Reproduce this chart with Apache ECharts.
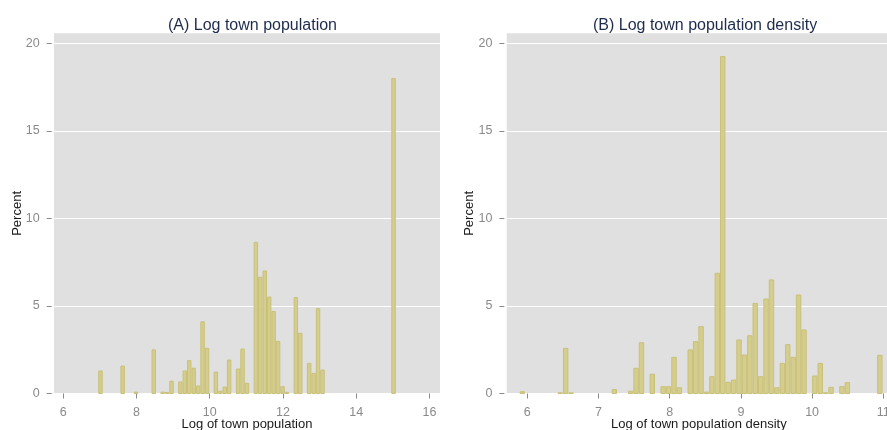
<!DOCTYPE html>
<html>
<head>
<meta charset="utf-8">
<script src="https://cdn.jsdelivr.net/npm/echarts@6/dist/echarts.min.js"></script>
<style>
html,body{margin:0;padding:0;background:#fff;}
#chart{width:887px;height:430px;}
</style>
</head>
<body>
<div id="chart"></div>
<script>
// Panel A: log town population (bin centers, percent)
const popBinWidth = 0.1213;
const popCenters = [7.015,7.621,7.985,8.470,8.713,8.834,8.955,9.198,9.319,9.440,9.562,9.683,9.804,9.926,10.168,10.290,10.410,10.530,10.775,10.896,11.017,11.260,11.381,11.503,11.624,11.745,11.867,11.988,12.109,12.352,12.473,12.716,12.837,12.958,13.080,15.020];
const popPercent = [1.29,1.57,0.08,2.49,0.08,0.06,0.70,0.66,1.29,1.88,1.44,0.43,4.10,2.58,1.22,0.13,0.37,1.91,1.40,2.54,0.58,8.64,6.64,7.00,5.51,4.68,2.98,0.39,0.07,5.48,3.44,1.72,1.15,4.85,1.34,18.00];

// Panel B: log town population density
const densBinWidth = 0.0761;
const densCenters = [5.929,6.461,6.538,6.614,7.222,7.451,7.527,7.603,7.755,7.907,7.983,8.060,8.136,8.288,8.364,8.440,8.516,8.592,8.668,8.744,8.820,8.897,8.973,9.049,9.125,9.201,9.277,9.353,9.429,9.505,9.582,9.658,9.734,9.810,9.886,10.038,10.114,10.190,10.266,10.419,10.495,10.951];
const densPercent = [0.10,0.04,2.58,0.04,0.22,0.13,1.44,2.90,1.10,0.39,0.39,2.07,0.33,2.49,2.96,3.82,0.08,0.96,6.87,19.25,0.64,0.77,3.06,2.20,3.30,5.15,0.96,5.40,6.49,0.33,1.72,2.79,2.07,5.63,3.63,1.00,1.72,0.04,0.35,0.39,0.62,2.18];

const yTicks = [0,5,10,15,20];
const popXTicks = [6,8,10,12,14,16];
const densXTicks = [6,7,8,9,10,11];

const titles = ['(A) Log town population','(B) Log town population density'];
const xNames = ['Log of town population','Log of town population density'];
const yName = 'Percent';

const barFill = '#d5cd8c';
const barStroke = '#c9c07a';
const gridBg = '#e0e0e0';
const tickGray = '#8a8a8a';
const fontFam = 'Liberation Sans, Arial, sans-serif';

function makeRender(bw){
  return function(params, api){
    const c = api.value(0), v = api.value(1);
    const p0 = api.coord([c - bw/2, v]);
    const p1 = api.coord([c + bw/2, 0]);
    return {
      type:'rect',
      shape:{x:p0[0]+0.5, y:p0[1], width:p1[0]-p0[0]-1, height:p1[1]-p0[1]},
      style:{fill:barFill, stroke:barStroke, lineWidth:1}
    };
  };
}

function xAxisCfg(idx, min, max, ticks, name){
  return {
    type:'value', gridIndex:idx, min:min, max:max, offset:1.5,
    name:name, nameLocation:'middle', nameGap:23, nameMoveOverlap:false,
    nameTextStyle:{color:'#1a1a1a', fontSize:13, fontFamily:fontFam},
    axisLine:{show:false},
    axisTick:{show:true, length:5, customValues:ticks, lineStyle:{color:tickGray}},
    axisLabel:{customValues:ticks, margin:11, color:tickGray, fontSize:12.5, fontFamily:fontFam},
    splitLine:{show:false}
  };
}
function yAxisCfg(idx){
  return {
    type:'value', gridIndex:idx, min:0, max:20.58, offset:2.3,
    name:yName, nameLocation:'middle', nameGap:28, nameMoveOverlap:false,
    nameTextStyle:{color:'#1a1a1a', fontSize:13, fontFamily:fontFam},
    axisLine:{show:false},
    axisTick:{show:true, length:5, customValues:yTicks, lineStyle:{color:tickGray}},
    axisLabel:{customValues:yTicks, margin:12, color:tickGray, fontSize:12.5, fontFamily:fontFam},
    splitLine:{show:true, lineStyle:{color:'#ffffff', width:1}}
  };
}

const chart = echarts.init(document.getElementById('chart'), null, {renderer:'canvas'});
chart.setOption({
  animation:false,
  backgroundColor:'#ffffff',
  title:[
    {text:titles[0], left:163, top:13, textStyle:{color:'#1e2b4d', fontSize:16, fontWeight:'normal', fontFamily:fontFam}},
    {text:titles[1], left:588, top:13, textStyle:{color:'#1e2b4d', fontSize:16, fontWeight:'normal', fontFamily:fontFam}}
  ],
  grid:[
    {left:54, top:33.3, width:386, height:360.2, show:true, backgroundColor:gridBg, borderWidth:0, outerBoundsMode:'none', containLabel:false},
    {left:506.7, top:33.3, width:384.3, height:360.2, show:true, backgroundColor:gridBg, borderWidth:0, outerBoundsMode:'none', containLabel:false}
  ],
  xAxis:[
    xAxisCfg(0, 5.746, 16.29, popXTicks, xNames[0]),
    xAxisCfg(1, 5.71, 11.108, densXTicks, xNames[1])
  ],
  yAxis:[yAxisCfg(0), yAxisCfg(1)],
  series:[
    {type:'custom', xAxisIndex:0, yAxisIndex:0, renderItem:makeRender(popBinWidth),
     encode:{x:0,y:1}, data:popCenters.map((c,i)=>[c,popPercent[i]])},
    {type:'custom', xAxisIndex:1, yAxisIndex:1, renderItem:makeRender(densBinWidth),
     encode:{x:0,y:1}, data:densCenters.map((c,i)=>[c,densPercent[i]])}
  ]
});
</script>
</body>
</html>
